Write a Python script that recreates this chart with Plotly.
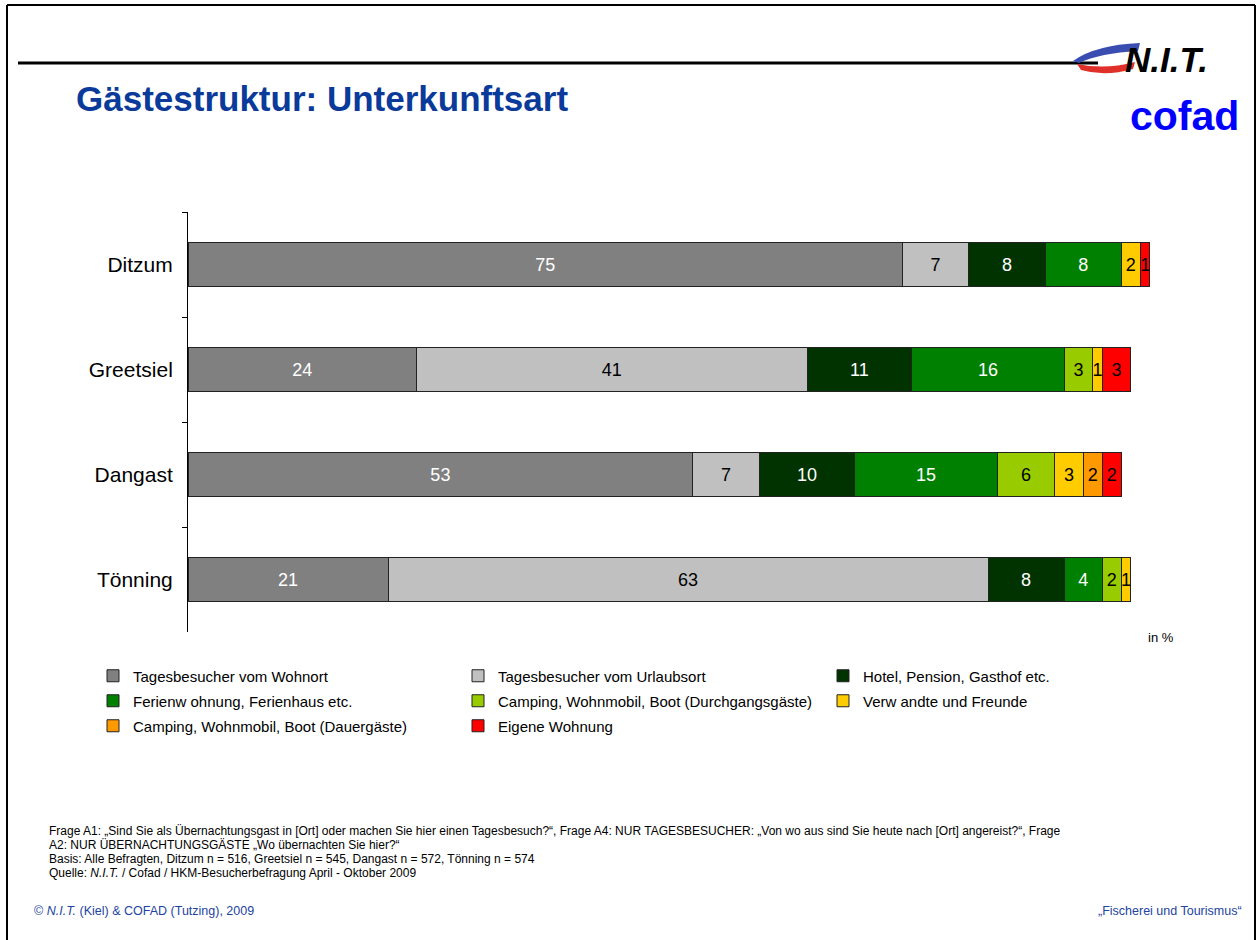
import plotly.graph_objects as go

# ---------------- data ----------------
locations = ["Ditzum", "Greetsiel", "Dangast", "Tönning"]
series_names = [
    "Tagesbesucher vom Wohnort",
    "Tagesbesucher vom Urlaubsort",
    "Hotel, Pension, Gasthof etc.",
    "Ferienw ohnung, Ferienhaus etc.",
    "Camping, Wohnmobil, Boot (Durchgangsgäste)",
    "Verw andte und Freunde",
    "Camping, Wohnmobil, Boot (Dauergäste)",
    "Eigene Wohnung",
]
tages_wohnort = [75, 24, 53, 21]
tages_urlaubsort = [7, 41, 7, 63]
hotel = [8, 11, 10, 8]
ferienwohnung = [8, 16, 15, 4]
camping_durchgang = [0, 3, 6, 2]
verwandte = [2, 1, 3, 1]
camping_dauer = [0, 0, 2, 0]
eigene_wohnung = [1, 3, 2, 0]
series_values = [tages_wohnort, tages_urlaubsort, hotel, ferienwohnung,
                 camping_durchgang, verwandte, camping_dauer, eigene_wohnung]

colors = ["#808080", "#C0C0C0", "#003300", "#008000",
          "#99CC00", "#FFCC00", "#FF9900", "#FF0000"]
text_colors = ["white", "black", "white", "white",
               "black", "black", "black", "black"]
legend_ids = ["legend", "legend", "legend", "legend2",
              "legend2", "legend2", "legend3", "legend3"]

FONT = "Liberation Sans, Arial, sans-serif"
W, H = 1258, 940
ML, MT, MB = 188, 212, 308
PW = 1000
PH = H - MT - MB
MR = W - ML - PW


def px(x):
    return (x - ML) / PW


def py(y):
    return 1 - (y - MT) / PH


fig = go.Figure()
for name, vals, col, tcol, lg in zip(series_names, series_values, colors, text_colors, legend_ids):
    fig.add_trace(go.Bar(
        y=locations,
        x=[v if v else None for v in vals],
        name=name,
        orientation="h",
        width=0.41,
        marker=dict(color=col, line=dict(color="#222222", width=1)),
        text=[str(v) if v else "" for v in vals],
        textposition="inside",
        insidetextanchor="middle",
        textangle=0,
        textfont=dict(family=FONT, size=18, color=tcol),
        legend=lg,
        hoverinfo="skip",
    ))

legend_common = dict(
    orientation="h",
    font=dict(family=FONT, size=15, color="black"),
    bgcolor="rgba(0,0,0,0)",
    entrywidthmode="pixels",
    entrywidth=320,
    itemwidth=30,
    xanchor="left",
    yanchor="middle",
    traceorder="normal",
)

fig.update_layout(
    width=W, height=H,
    margin=dict(l=ML, r=MR, t=MT, b=MB, pad=0),
    paper_bgcolor="white",
    plot_bgcolor="white",
    barmode="stack",
    bargap=0.59,
    uniformtext=dict(minsize=18, mode="show"),
    font=dict(family=FONT, color="black"),
    xaxis=dict(visible=False, range=[0, 105]),
    yaxis=dict(
        type="category",
        categoryorder="array",
        categoryarray=locations,
        autorange="reversed",
        tickson="boundaries",
        ticks="outside",
        ticklen=5,
        tickcolor="black",
        showline=True,
        linecolor="black",
        linewidth=1,
        showgrid=False,
        zeroline=False,
        tickfont=dict(family=FONT, size=21, color="black"),
        ticklabelstandoff=10,
    ),
    legend=dict(legend_common, x=px(93), y=py(676)),
    legend2=dict(legend_common, x=px(93), y=py(701)),
    legend3=dict(legend_common, x=px(93), y=py(726)),
    showlegend=True,
)

shapes = []
# frame
shapes.append(dict(type="line", xref="paper", yref="paper",
                   x0=px(7), x1=px(1255), y0=py(5), y1=py(5),
                   line=dict(color="black", width=2)))
shapes.append(dict(type="line", xref="paper", yref="paper",
                   x0=px(7), x1=px(7), y0=py(5), y1=py(940),
                   line=dict(color="black", width=2)))
shapes.append(dict(type="line", xref="paper", yref="paper",
                   x0=px(1255), x1=px(1255), y0=py(5), y1=py(940),
                   line=dict(color="black", width=2)))
# header rule
shapes.append(dict(type="line", xref="paper", yref="paper",
                   x0=px(18), x1=px(1098), y0=py(63), y1=py(63),
                   line=dict(color="black", width=3)))


def path(points_cmds):
    out = []
    for cmd, pts in points_cmds:
        s = cmd
        s += " ".join(f"{px(x):.5f},{py(y):.5f}" for x, y in pts)
        out.append(s)
    return " ".join(out) + " Z"


# swoosh of the N.I.T. logo
shapes.append(dict(type="path", xref="paper", yref="paper",
                   path=path([("M", [(1073, 61)]), ("Q", [(1095, 45), (1140, 43)]),
                              ("L", [(1138, 51)]),
                              ("Q", [(1100, 53), (1079, 63)])]),
                   fillcolor="#3A4DB0", line=dict(width=0)))
shapes.append(dict(type="path", xref="paper", yref="paper",
                   path=path([("M", [(1077, 64)]), ("Q", [(1105, 70), (1135, 62)]),
                              ("L", [(1133, 69)]),
                              ("Q", [(1105, 77), (1081, 70)])]),
                   fillcolor="#E0302A", line=dict(width=0)))
fig.update_layout(shapes=shapes)

annotations = []


def ann(text, x, y, size, color="black", xanchor="left", bold=False, **kw):
    annotations.append(dict(
        text=f"<b>{text}</b>" if bold else text,
        xref="paper", yref="paper", x=px(x), y=py(y),
        xanchor=xanchor, yanchor="middle", showarrow=False,
        font=dict(family=FONT, size=size, color=color), **kw))


ann("Gästestruktur: Unterkunftsart", 74, 98, 35, color="#0A3A9A", bold=True)
ann("<i>N.I.T.</i>", 1210, 60, 35, color="black", xanchor="right", bold=True)
ann("cofad", 1241, 116, 41, color="#0000FF", xanchor="right", bold=True)
ann("in %", 1146, 637, 13)

foot = [
    "Frage A1: „Sind Sie als Übernachtungsgast in [Ort] oder machen Sie hier einen Tagesbesuch?“, "
    "Frage A4: NUR TAGESBESUCHER: „Von wo aus sind Sie heute nach [Ort] angereist?“, Frage",
    "A2: NUR ÜBERNACHTUNGSGÄSTE „Wo übernachten Sie hier?“",
    "Basis: Alle Befragten, Ditzum n = 516, Greetsiel n = 545, Dangast n = 572, Tönning n = 574",
    "Quelle: <i>N.I.T.</i> / Cofad / HKM-Besucherbefragung April - Oktober 2009",
]
for i, line in enumerate(foot):
    ann(line, 47, 831 + i * 14, 12)

ann("© <i>N.I.T.</i> (Kiel) & COFAD (Tutzing), 2009", 32, 911, 12.5, color="#2244A0")
ann("„Fischerei und Tourismus“", 1244, 911, 12.5, color="#2244A0", xanchor="right")

fig.update_layout(annotations=annotations)

fig.write_html("out.html", config={"displayModeBar": False},
               post_script="document.body.style.margin='0';")
